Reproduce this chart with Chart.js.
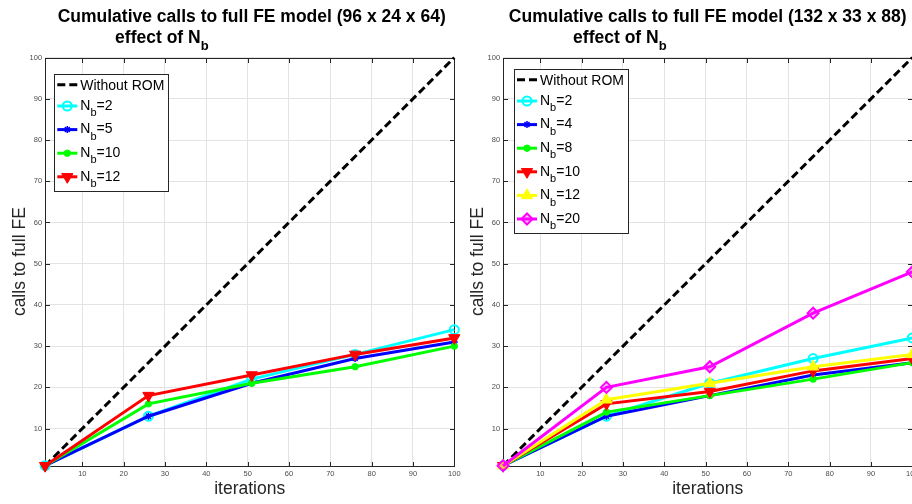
<!DOCTYPE html>
<html>
<head>
<meta charset="utf-8">
<script src="https://cdn.jsdelivr.net/npm/chart.js@4.4.1/dist/chart.umd.min.js"></script>
<style>
  html, body { margin: 0; padding: 0; background: #fff; overflow: hidden; width: 912px; height: 504px; }
  canvas { position: absolute; top: 0; }
  #leftChart { left: 0; }
  #rightChart { left: 458px; }
</style>
</head>
<body>
<canvas id="leftChart" width="470" height="504"></canvas>
<canvas id="rightChart" width="470" height="504"></canvas>
<script>
// iterations where the FE model was sampled
const iterations = [1, 26, 51, 76, 100];
const tickValues = [10, 20, 30, 40, 50, 60, 70, 80, 90, 100];

// reference line: one full FE call per iteration
const noRomX = [1, 100];
const noRomY = [1, 100];

// left panel, mesh 96 x 24 x 64
const smallNb2  = [1, 13, 22, 28, 34];
const smallNb5  = [1, 13, 21, 27, 31];
const smallNb10 = [1, 16, 21, 25, 30];
const smallNb12 = [1, 18, 23, 28, 32];

// right panel, mesh 132 x 33 x 88
const bigNb2  = [1, 13, 21, 27, 32];
const bigNb4  = [1, 13, 18, 23, 26];
const bigNb8  = [1, 14, 18, 22, 26];
const bigNb10 = [1, 16, 19, 24, 27];
const bigNb12 = [1, 17, 21, 25, 28];
const bigNb20 = [1, 20, 25, 38, 48];

const FONT = '"Liberation Sans", Arial, Helvetica, sans-serif';

// marker look per colour (matlab-ish)
const looks = {
  cyan:    { color: "#00ffff", pointStyle: "circle",   radius: 4.5, bw: 2,   fill: "rgba(0,0,0,0)" },
  blue:    { color: "#0000ff", pointStyle: "star",     radius: 3.5, bw: 1.5, fill: "#0000ff" },
  green:   { color: "#00ff00", pointStyle: "circle",   radius: 3.2, bw: 1,   fill: "#00ff00" },
  red:     { color: "#ff0000", pointStyle: "triangle", radius: 6.5, bw: 1,   fill: "#ff0000", rot: 180 },
  yellow:  { color: "#ffff00", pointStyle: "triangle", radius: 6.5, bw: 1,   fill: "#ffff00" },
  magenta: { color: "#ff00ff", pointStyle: "rectRot",  radius: 5.5, bw: 2,   fill: "rgba(255,0,255,0.25)" }
};

function noRomSet() {
  return {
    label: "Without ROM",
    data: noRomX.map((x, k) => ({ x, y: noRomY[k] })),
    borderColor: "#000", borderWidth: 3, borderDash: [8, 4],
    pointRadius: 0, clip: false
  };
}

function nbSet(label, ys, lookName) {
  const l = looks[lookName];
  return {
    label,
    data: iterations.map((x, k) => ({ x, y: ys[k] })),
    borderColor: l.color, borderWidth: 3,
    pointStyle: l.pointStyle, pointRadius: l.radius, pointRotation: l.rot || 0,
    pointBorderWidth: l.bw, pointBorderColor: l.color, pointBackgroundColor: l.fill,
    clip: false
  };
}

// box + inward ticks, drawn under the lines
const frame = {
  id: "frame",
  beforeDatasetsDraw(chart) {
    const { ctx, chartArea: a, scales: { x, y } } = chart;
    ctx.save();
    ctx.strokeStyle = "#262626";
    ctx.lineWidth = 1;
    const L = Math.round(a.left) + 0.5, R = Math.round(a.right) + 0.5;
    const T = Math.round(a.top) + 0.5, B = Math.round(a.bottom) + 0.5;
    ctx.strokeRect(L, T, R - L, B - T);
    ctx.beginPath();
    tickValues.forEach(v => {
      const px = Math.round(x.getPixelForValue(v)) + 0.5;
      ctx.moveTo(px, B); ctx.lineTo(px, B - 4.5);
      ctx.moveTo(px, T); ctx.lineTo(px, T + 4.5);
      const py = Math.round(y.getPixelForValue(v)) + 0.5;
      ctx.moveTo(L, py); ctx.lineTo(L + 4.5, py);
      ctx.moveTo(R, py); ctx.lineTo(R - 4.5, py);
    });
    ctx.stroke();
    ctx.restore();
  }
};

// "...N_b=2" -> text, N, subscript b, rest
function drawNb(ctx, label, x, y, size, subSize, weight, subDrop) {
  ctx.font = `${weight} ${size}px ${FONT}`;
  const cut = label.indexOf("_b");
  if (cut < 0) { ctx.fillText(label, x, y); return; }
  const head = label.slice(0, cut), tail = label.slice(cut + 2);
  ctx.fillText(head, x, y);
  x += ctx.measureText(head).width;
  ctx.font = `${weight} ${subSize}px ${FONT}`;
  ctx.fillText("b", x, y + subDrop);
  x += ctx.measureText("b").width;
  ctx.font = `${weight} ${size}px ${FONT}`;
  if (tail) ctx.fillText(tail, x, y);
}

const boxLegend = {
  id: "boxLegend",
  afterDatasetsDraw(chart, args, opts) {
    const { ctx, chartArea: a } = chart;
    const sets = chart.data.datasets;
    const left = a.left + opts.dx, top = a.top + opts.dy, w = 114;
    const rows = sets.map((d, i) => top + 10.5 + (i ? 21.2 + (i - 1) * 23.6 : 0));
    const bottom = rows[rows.length - 1] + 14;
    ctx.save();
    ctx.fillStyle = "#fff";
    ctx.fillRect(left, top, w, bottom - top);
    ctx.strokeStyle = "#262626";
    ctx.lineWidth = 1;
    ctx.strokeRect(Math.round(left) + 0.5, Math.round(top) + 0.5, w, Math.round(bottom - top));
    sets.forEach((d, i) => {
      const y = rows[i];
      ctx.strokeStyle = d.borderColor;
      ctx.lineWidth = d.borderWidth;
      ctx.setLineDash(d.borderDash || []);
      ctx.beginPath();
      ctx.moveTo(left + 3, y); ctx.lineTo(left + 23, y);
      ctx.stroke();
      ctx.setLineDash([]);
      if (d.pointRadius > 0) {
        ctx.fillStyle = d.pointBackgroundColor;
        ctx.strokeStyle = d.pointBorderColor;
        ctx.lineWidth = d.pointBorderWidth;
        Chart.helpers.drawPoint(ctx, {
          pointStyle: d.pointStyle, rotation: d.pointRotation, radius: d.pointRadius, borderWidth: d.pointBorderWidth
        }, left + 13, y);
      }
      ctx.fillStyle = "#000";
      ctx.textAlign = "left";
      ctx.textBaseline = "alphabetic";
      const base = i ? y + 3.8 : y + 5;
      drawNb(ctx, d.label, left + 26, base, 14, 11, "normal", 6.4);
    });
    ctx.restore();
  }
};

const heading = {
  id: "heading",
  afterDraw(chart, args, opts) {
    const { ctx, chartArea: a } = chart;
    ctx.save();
    ctx.fillStyle = "#000";
    ctx.textBaseline = "alphabetic";
    ctx.font = `bold 17.5px ${FONT}`;
    ctx.textAlign = "center";
    ctx.fillText(opts.text, (a.left + a.right) / 2 + opts.shift, 22);
    ctx.textAlign = "left";
    drawNb(ctx, "effect of N_b", a.left + 70, 43, 17.5, 13, "bold", 7);
    ctx.restore();
  }
};

function axis(title, isX) {
  return {
    type: "linear", min: 1, max: 100,
    afterBuildTicks: s => { s.ticks = tickValues.map(v => ({ value: v })); },
    ticks: { font: { family: FONT, size: 7.5 }, color: "#4d4d4d", padding: isX ? 4 : 3, maxRotation: 0, autoSkip: false },
    grid: { color: "#e3e3e3", lineWidth: 1, drawTicks: false },
    border: { display: false },
    title: {
      display: true, text: title, color: "#262626",
      font: { family: FONT, size: 17.5 },
      padding: isX ? { top: 0, bottom: 4 } : { top: 9.5, bottom: 0 }
    },
    afterFit: s => { if (isX) s.height = 38.3; else s.width = 45.1; }
  };
}

function makeChart(id, datasets, titleText, shift, legendPos) {
  datasets.forEach((d, i) => { d.order = datasets.length - i; d.tension = 0; });
  return new Chart(document.getElementById(id), {
    type: "line",
    data: { datasets },
    options: {
      responsive: false, animation: false, devicePixelRatio: 1, events: [],
      layout: { padding: { left: 0, top: 57.6, right: 15.7, bottom: 0 } },
      scales: { x: axis("iterations", true), y: axis("calls to full FE", false) },
      plugins: {
        legend: { display: false }, tooltip: { enabled: false }, title: { display: false },
        heading: { text: titleText, shift },
        boxLegend: legendPos
      }
    },
    plugins: [frame, boxLegend, heading]
  });
}

makeChart("leftChart", [
  noRomSet(),
  nbSet("N_b=2", smallNb2, "cyan"),
  nbSet("N_b=5", smallNb5, "blue"),
  nbSet("N_b=10", smallNb10, "green"),
  nbSet("N_b=12", smallNb12, "red")
], "Cumulative calls to full FE model (96 x 24 x 64)", 2, { dx: 9.2, dy: 16.7 });

makeChart("rightChart", [
  noRomSet(),
  nbSet("N_b=2", bigNb2, "cyan"),
  nbSet("N_b=4", bigNb4, "blue"),
  nbSet("N_b=8", bigNb8, "green"),
  nbSet("N_b=10", bigNb10, "red"),
  nbSet("N_b=12", bigNb12, "yellow"),
  nbSet("N_b=20", bigNb20, "magenta")
], "Cumulative calls to full FE model (132 x 33 x 88)", 0, { dx: 10.9, dy: 11.7 });
</script>
</body>
</html>
